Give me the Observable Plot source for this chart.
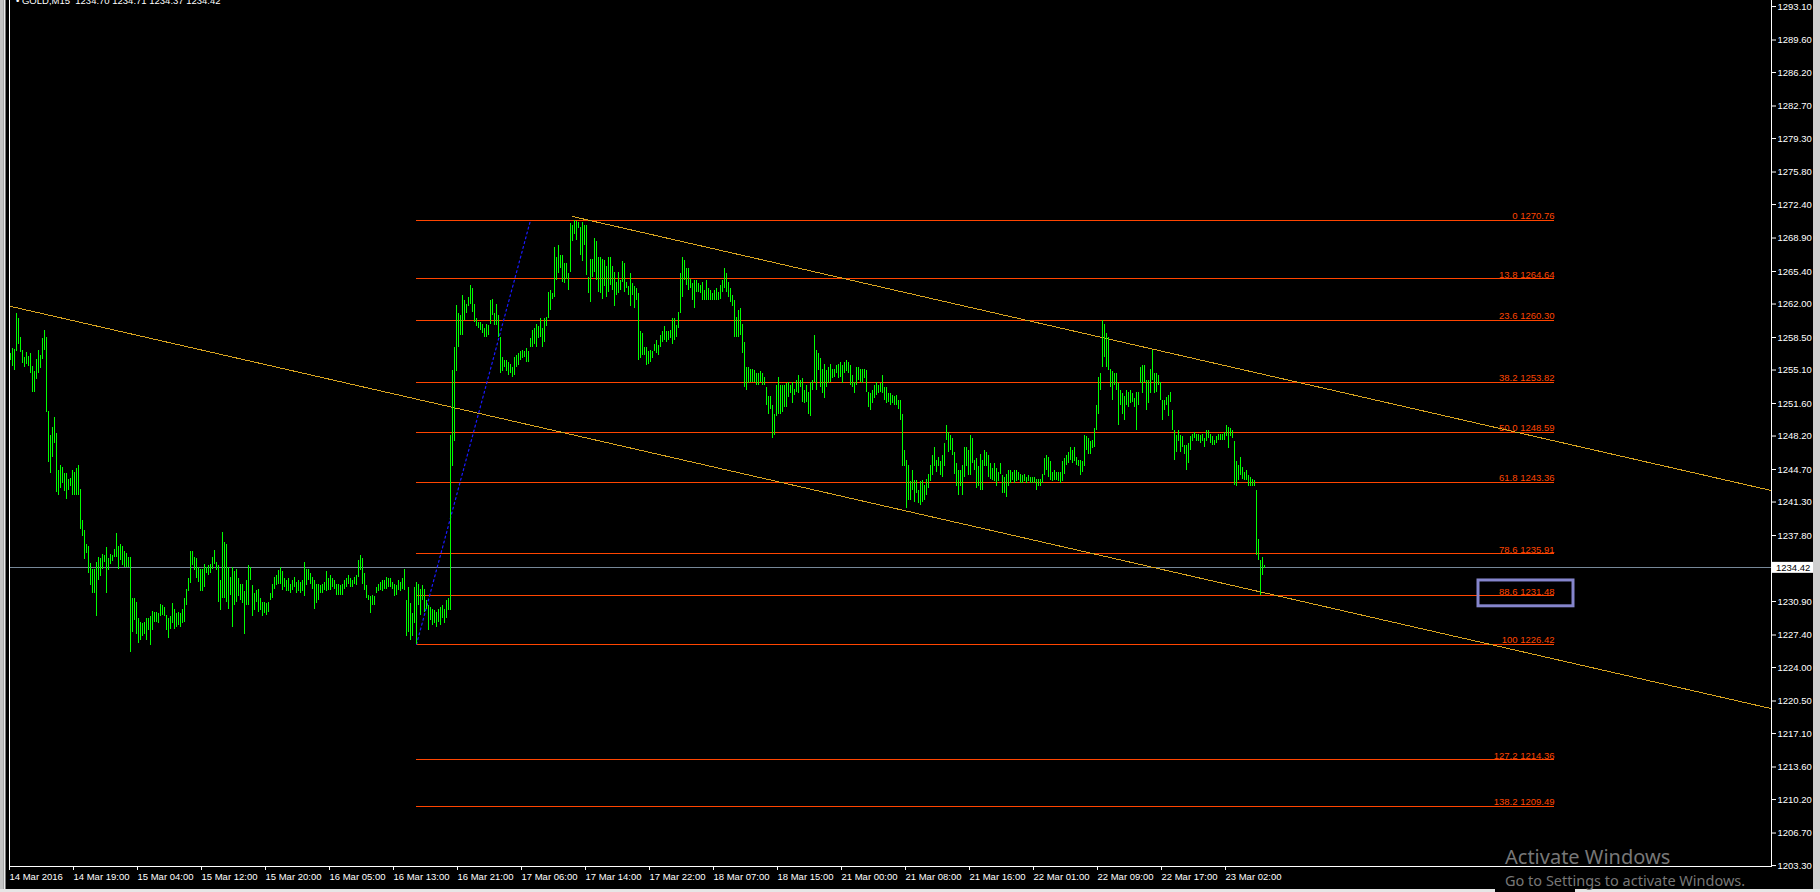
<!DOCTYPE html>
<html><head><meta charset="utf-8">
<script src="https://cdn.jsdelivr.net/npm/d3@7"></script>
<script src="https://cdn.jsdelivr.net/npm/@observablehq/plot@0.6"></script>
<style>
html,body{margin:0;padding:0;background:#000;overflow:hidden;}
#chart{width:1820px;height:892px;}
</style></head><body><div id="chart"></div>
<script>
// ---- data: GOLD M15 bars (bar index = position on the MT4 time axis) ----
const highs = [
1256.8,1257.3,1257.2,1261.0,1260.5,1258.5,1257.1,1256.4,1256.9,1256.5,
1256.8,1255.5,1254.9,1256.2,1257.1,1256.6,1258.4,1259.2,1258.5,1250.8,
1248.3,1249.1,1250.1,1248.5,1244.6,1245.1,1244.9,1244.3,1244.3,1243.7,
1243.8,1244.6,1244.4,1244.8,1245.1,1242.6,1239.4,1238.3,1236.9,1236.6,
1234.9,1234.3,1234.2,1235.0,1235.5,1235.4,1235.8,1235.7,1236.5,1235.4,
1235.8,1235.7,1236.3,1238.0,1236.6,1236.9,1236.6,1236.1,1235.9,1235.5,
1235.5,1231.2,1231.2,1230.8,1229.1,1228.7,1228.6,1228.7,1229.1,1229.1,
1229.3,1229.9,1229.8,1229.8,1229.6,1230.6,1230.5,1230.3,1229.4,1229.1,
1229.3,1230.7,1230.1,1229.6,1229.8,1229.6,1230.1,1231.2,1232.2,1233.3,
1236.1,1236.1,1235.5,1235.4,1234.5,1234.3,1234.2,1234.8,1234.5,1234.7,
1234.8,1235.5,1236.2,1235.0,1234.7,1233.1,1238.1,1237.1,1236.9,1234.5,
1233.4,1234.5,1234.0,1234.3,1233.3,1232.7,1232.7,1231.9,1233.1,1234.7,
1234.5,1232.6,1231.7,1232.1,1232.2,1231.2,1230.8,1230.8,1230.7,1230.8,
1231.7,1232.7,1233.4,1233.6,1234.1,1234.5,1234.0,1233.3,1233.1,1233.3,
1232.7,1233.1,1233.4,1232.9,1233.1,1232.9,1233.1,1235.0,1234.2,1234.3,
1233.8,1233.4,1233.1,1232.7,1232.7,1232.6,1232.7,1232.9,1234.0,1233.3,
1233.6,1233.3,1233.1,1232.7,1232.7,1232.6,1232.7,1233.1,1233.3,1233.6,
1233.3,1233.1,1233.4,1233.6,1235.2,1235.7,1235.4,1233.8,1232.6,1231.5,
1231.4,1231.5,1231.4,1232.4,1232.7,1232.9,1233.1,1233.1,1233.4,1233.3,
1233.3,1232.9,1232.7,1232.6,1233.1,1232.9,1233.3,1234.3,1231.0,1232.4,
1230.7,1229.6,1232.4,1232.9,1232.7,1232.2,1232.6,1232.2,1231.0,1230.5,
1230.3,1230.1,1230.0,1229.8,1230.1,1230.3,1230.5,1230.1,1231.0,1231.2,
1248.3,1255.1,1257.5,1261.8,1261.0,1260.8,1262.9,1262.4,1262.0,1262.7,
1263.9,1263.6,1262.0,1260.5,1260.1,1260.1,1259.9,1259.4,1259.9,1259.8,
1262.4,1262.5,1261.0,1262.0,1260.8,1258.5,1256.4,1256.1,1256.1,1255.9,
1255.7,1255.4,1256.4,1256.6,1256.8,1257.0,1257.1,1257.0,1257.3,1257.0,
1258.4,1259.2,1259.4,1259.9,1259.6,1260.5,1259.4,1260.5,1260.6,1263.2,
1263.4,1263.1,1267.9,1266.9,1268.1,1267.1,1267.1,1266.2,1266.2,1265.2,
1270.4,1270.2,1270.76,1270.6,1270.5,1270.0,1270.5,1270.2,1270.2,1264.8,
1266.7,1266.7,1268.8,1268.5,1266.9,1266.9,1266.7,1266.6,1265.9,1266.9,
1266.9,1265.9,1265.3,1264.3,1265.3,1264.5,1266.4,1266.2,1264.3,1263.8,
1265.2,1264.1,1263.8,1263.6,1263.1,1259.1,1258.9,1257.5,1257.5,1257.0,
1257.1,1257.0,1257.8,1258.2,1257.7,1258.7,1259.1,1259.6,1259.1,1259.1,
1259.2,1260.5,1260.5,1259.8,1261.1,1265.2,1266.9,1266.6,1265.7,1265.7,
1264.6,1264.1,1264.5,1264.5,1264.1,1263.9,1264.3,1263.4,1264.5,1263.6,
1263.4,1263.1,1263.4,1263.6,1263.2,1263.9,1264.5,1265.7,1265.2,1264.3,
1263.6,1262.9,1262.4,1260.6,1261.3,1261.5,1259.9,1258.0,1255.4,1255.4,
1255.2,1255.2,1255.0,1254.7,1254.7,1254.9,1254.7,1254.3,1253.3,1252.3,
1252.3,1251.4,1250.4,1253.5,1254.3,1253.5,1253.5,1253.5,1253.7,1253.8,
1253.5,1253.8,1253.1,1254.0,1254.5,1254.0,1254.2,1253.0,1253.5,1252.8,
1253.8,1254.0,1258.7,1257.1,1256.8,1256.3,1255.2,1255.7,1255.0,1255.4,
1255.7,1255.2,1255.2,1255.6,1255.7,1255.9,1255.6,1255.9,1256.1,1255.9,
1255.6,1254.5,1253.8,1255.4,1255.4,1255.2,1255.2,1255.2,1255.0,1252.8,
1252.6,1253.0,1253.5,1253.8,1253.5,1253.7,1254.5,1253.3,1253.3,1252.6,
1252.6,1252.4,1252.3,1252.4,1251.9,1251.9,1250.4,1246.7,1245.6,1245.1,
1243.4,1244.6,1243.6,1243.6,1242.5,1243.4,1243.6,1243.0,1243.7,1244.2,
1245.1,1246.2,1247.0,1245.6,1246.0,1245.5,1246.2,1247.4,1249.3,1248.6,
1248.3,1247.9,1246.5,1245.3,1244.6,1244.6,1245.1,1247.0,1247.0,1246.7,
1248.3,1247.9,1245.6,1245.8,1245.0,1246.3,1245.6,1246.7,1246.5,1246.2,
1245.3,1244.8,1245.3,1244.8,1244.4,1245.3,1244.1,1243.9,1244.2,1244.6,
1244.6,1244.4,1244.6,1244.6,1244.4,1244.2,1244.1,1244.2,1243.9,1244.1,
1243.9,1243.9,1243.9,1243.7,1243.7,1243.7,1244.2,1245.8,1246.2,1246.0,
1245.5,1244.4,1244.6,1244.4,1244.4,1244.4,1245.5,1245.8,1246.2,1246.5,
1247.0,1246.7,1247.0,1246.0,1245.6,1245.6,1245.5,1248.3,1248.1,1247.9,
1247.6,1247.7,1249.0,1251.4,1254.3,1254.7,1260.3,1259.9,1258.9,1258.5,
1255.2,1254.9,1254.7,1254.7,1253.7,1253.0,1252.6,1252.3,1253.0,1252.8,
1253.0,1252.6,1252.1,1252.8,1252.8,1255.4,1255.6,1255.6,1254.0,1254.0,
1255.2,1257.1,1254.7,1254.7,1254.5,1253.8,1251.9,1251.9,1252.2,1252.4,
1252.8,1250.9,1248.8,1248.3,1248.8,1248.3,1248.1,1247.2,1247.2,1247.4,
1248.1,1248.4,1248.6,1248.4,1248.4,1248.3,1248.4,1247.9,1248.8,1248.8,
1248.4,1248.1,1247.7,1248.1,1248.4,1248.4,1248.4,1248.6,1249.3,1249.1,
1249.0,1248.8,1247.6,1245.5,1245.1,1246.0,1244.9,1244.4,1244.6,1244.1,
1243.9,1243.7,1243.6,1242.5,1237.4,1235.2,1235.5,1234.71
];
const lows = [
1256.1,1255.5,1255.1,1257.0,1257.8,1256.9,1255.8,1255.4,1255.7,1255.5,
1254.7,1252.8,1252.8,1254.1,1254.7,1255.3,1256.2,1257.1,1250.7,1245.4,
1244.3,1246.0,1247.4,1242.3,1242.0,1242.7,1243.2,1242.4,1241.6,1242.5,
1242.9,1242.0,1242.0,1242.0,1242.0,1238.4,1237.7,1235.3,1235.9,1233.8,
1232.6,1231.7,1231.7,1229.3,1233.1,1233.5,1234.2,1235.0,1231.7,1234.1,
1234.8,1235.1,1235.5,1235.5,1234.2,1235.2,1234.7,1234.5,1234.5,1234.5,
1225.6,1227.7,1228.9,1227.5,1226.5,1226.8,1227.2,1227.5,1226.8,1227.9,
1226.3,1227.9,1228.7,1228.7,1228.6,1229.3,1229.4,1229.3,1227.9,1227.0,
1228.0,1228.6,1228.0,1228.2,1228.4,1228.2,1228.6,1228.7,1230.5,1231.9,
1232.8,1234.7,1234.1,1233.3,1232.9,1231.9,1231.9,1232.4,1233.8,1233.6,
1233.8,1234.3,1234.8,1234.1,1230.8,1230.0,1231.2,1231.2,1230.8,1230.1,
1231.5,1228.2,1230.5,1230.8,1231.4,1231.0,1230.7,1227.5,1230.5,1230.5,
1233.1,1229.3,1230.0,1230.8,1229.8,1230.0,1229.3,1229.6,1229.4,1229.8,
1231.0,1231.2,1232.2,1232.6,1232.7,1232.7,1232.1,1232.4,1231.9,1231.9,
1231.7,1232.1,1232.4,1231.7,1231.9,1231.7,1231.9,1231.4,1232.6,1233.1,
1232.7,1232.2,1230.1,1230.7,1231.0,1231.7,1231.7,1232.1,1231.9,1232.1,
1232.1,1232.4,1232.2,1231.5,1231.5,1231.5,1231.5,1232.2,1232.4,1232.7,
1232.4,1232.4,1232.7,1232.6,1233.4,1234.1,1232.7,1232.1,1231.2,1231.0,
1229.6,1230.5,1230.5,1231.7,1231.9,1232.1,1231.9,1232.2,1232.2,1232.4,
1232.4,1232.2,1231.4,1231.5,1232.1,1231.9,1232.2,1232.1,1227.2,1227.7,
1226.8,1227.2,1228.6,1226.42,1230.5,1229.4,1231.0,1229.8,1230.1,1227.9,
1228.9,1228.4,1228.6,1228.2,1228.7,1228.4,1229.1,1228.6,1229.1,1230.0,
1230.0,1245.0,1247.6,1254.9,1257.5,1258.7,1258.7,1260.3,1261.0,1261.7,
1262.0,1261.1,1260.1,1259.6,1259.4,1259.2,1258.9,1258.5,1258.5,1258.7,
1259.9,1260.8,1259.8,1259.8,1258.5,1254.7,1254.9,1255.4,1254.9,1254.5,
1254.7,1254.3,1254.5,1255.4,1255.6,1256.1,1256.3,1256.4,1255.9,1255.9,
1257.5,1257.5,1257.8,1257.5,1258.4,1258.5,1257.5,1258.0,1259.6,1260.5,
1261.3,1262.5,1262.7,1264.5,1265.2,1265.7,1264.3,1264.1,1264.6,1263.4,
1265.3,1268.5,1269.3,1268.6,1269.9,1267.1,1266.4,1268.1,1265.0,1263.1,
1262.2,1264.8,1265.3,1264.5,1263.2,1263.1,1262.5,1263.8,1262.7,1263.2,
1263.9,1263.4,1261.7,1262.9,1263.1,1263.4,1264.3,1263.2,1263.6,1262.9,
1261.7,1262.9,1261.5,1262.4,1256.1,1256.3,1256.6,1256.6,1255.6,1255.7,
1255.9,1256.3,1257.0,1256.8,1256.6,1257.5,1258.0,1258.2,1258.0,1258.2,
1258.4,1257.8,1258.2,1258.5,1259.4,1261.0,1262.7,1264.5,1263.9,1263.4,
1263.6,1262.4,1261.5,1263.2,1263.2,1263.1,1262.4,1262.4,1262.4,1262.4,
1262.4,1262.4,1262.4,1262.4,1262.4,1262.5,1263.2,1263.6,1263.2,1262.7,
1262.2,1261.7,1258.5,1258.5,1258.5,1258.7,1256.8,1253.3,1253.0,1253.7,
1253.8,1253.8,1253.8,1253.5,1253.5,1253.8,1253.5,1253.5,1251.4,1250.4,
1251.0,1247.9,1248.3,1250.2,1250.5,1250.5,1250.7,1251.2,1251.2,1252.2,
1252.6,1251.6,1252.4,1252.8,1252.6,1253.3,1251.7,1251.6,1251.7,1250.5,
1250.2,1253.0,1253.8,1253.0,1255.0,1253.3,1252.6,1252.1,1253.3,1253.7,
1253.8,1254.2,1254.3,1254.7,1254.2,1254.3,1253.7,1254.7,1254.9,1254.7,
1253.5,1253.3,1252.6,1253.5,1254.0,1253.8,1253.7,1254.2,1252.8,1251.2,
1250.9,1251.6,1252.1,1252.4,1252.6,1252.8,1252.6,1251.9,1251.6,1251.7,
1251.4,1251.6,1251.4,1251.4,1251.0,1249.8,1245.0,1245.0,1240.6,1241.5,
1241.5,1242.5,1241.3,1242.2,1241.1,1240.9,1241.3,1241.5,1242.0,1242.7,
1243.4,1244.1,1245.0,1244.4,1245.0,1244.1,1243.9,1245.0,1247.7,1246.5,
1246.7,1246.2,1244.2,1242.9,1242.0,1242.9,1242.0,1243.9,1245.0,1244.1,
1244.1,1245.3,1244.6,1242.7,1242.9,1242.5,1242.5,1245.0,1245.0,1243.9,
1243.7,1243.5,1243.4,1242.9,1243.4,1244.2,1242.2,1242.2,1241.8,1242.9,
1243.2,1243.5,1243.2,1243.4,1243.5,1243.2,1243.2,1243.4,1243.2,1243.4,
1243.2,1243.2,1243.2,1242.5,1242.9,1242.9,1243.2,1244.1,1244.6,1243.9,
1243.5,1243.4,1243.5,1243.5,1243.4,1243.2,1243.4,1244.2,1245.1,1245.3,
1245.6,1245.3,1245.5,1245.1,1245.0,1244.1,1244.4,1245.0,1246.7,1246.3,
1246.3,1246.9,1247.0,1248.8,1250.5,1253.0,1255.4,1256.4,1255.4,1255.0,
1253.3,1251.9,1253.5,1253.0,1249.3,1251.4,1250.5,1249.8,1251.4,1251.2,
1251.6,1251.7,1251.2,1248.8,1251.4,1253.7,1252.6,1253.8,1250.9,1251.6,
1252.6,1254.0,1252.6,1252.8,1253.5,1251.9,1249.8,1250.9,1251.4,1250.2,
1251.7,1248.8,1245.6,1246.5,1247.6,1246.5,1247.0,1246.3,1244.6,1245.3,
1246.7,1247.6,1247.9,1247.6,1247.6,1247.4,1247.6,1247.0,1247.6,1247.9,
1247.4,1247.2,1247.2,1247.4,1247.7,1247.7,1247.7,1247.7,1248.1,1246.9,
1248.1,1247.9,1243.0,1242.9,1243.6,1244.1,1243.7,1243.5,1243.5,1242.9,
1242.9,1242.9,1242.9,1235.7,1235.2,1231.48,1233.6,1234.37
];
const titleText = "GOLD,M15  1234.70 1234.71 1234.37 1234.42";
const currentPrice = 1234.42;

// time axis (bar index of each label)
const xTickBars = [0,32,64,96,128,160,192,224,256,288,320,352,384,416,448,480,512,544,576,608];
const xTickLabels = ["14 Mar 2016","14 Mar 19:00","15 Mar 04:00","15 Mar 12:00","15 Mar 20:00",
  "16 Mar 05:00","16 Mar 13:00","16 Mar 21:00","17 Mar 06:00","17 Mar 14:00","17 Mar 22:00",
  "18 Mar 07:00","18 Mar 15:00","21 Mar 00:00","21 Mar 08:00","21 Mar 16:00","22 Mar 01:00",
  "22 Mar 09:00","22 Mar 17:00","23 Mar 02:00"];
const yTicks = [1293.10,1289.60,1286.20,1282.70,1279.30,1275.80,1272.40,1268.90,1265.40,1262.00,
  1258.50,1255.10,1251.60,1248.20,1244.70,1241.30,1237.80,1230.90,1227.40,1224.00,1220.50,
  1217.10,1213.60,1210.20,1206.70,1203.30];

// Fibonacci retracement
const fibLevels = ["0","13.8","23.6","38.2","50.0","61.8","78.6","88.6","100","127.2","138.2"];
const fibPrices = [1270.76,1264.64,1260.30,1253.82,1248.59,1243.36,1235.91,1231.48,1226.42,1214.36,1209.49];
const fibBars = [203, 772];      // start / end bar of level lines
const fibSwing = [[203,1226.42],[260,1270.76]]; // dotted swing line

// channel trendlines
const upperChannel = [[281,1271.15],[880.5,1242.5]];
const lowerChannel = [[-0.5,1261.78],[880.5,1219.7]];

// highlight box around 88.6 level label
const highlightBox = [{x1:734, x2:781.5, y1:1230.4, y2:1233.1}];

const bars = highs.map((h, i) => ({i, high: h, low: lows[i]}));

const plot = Plot.plot({
  width: 1820, height: 892,
  marginLeft: 9, marginRight: 49, marginTop: 0, marginBottom: 26,
  style: {background: "#000", color: "#fff", fontFamily: "'Liberation Sans', Arial, sans-serif", fontSize: "9.5px"},
  x: {domain: [-0.5, 880.5], axis: null},
  y: {domain: [1203.2, 1293.73], axis: null},
  marks: [
    Plot.ruleY([currentPrice], {stroke: "#778899", shapeRendering: "crispEdges"}),
    Plot.ruleY(fibPrices, {y: d => d, x1: () => fibBars[0], x2: () => fibBars[1], stroke: "#ff4500", shapeRendering: "crispEdges"}),
    Plot.text(fibPrices, {x: () => fibBars[1], y: d => d, text: (d, i) => fibLevels[i] + " " + d.toFixed(2),
      textAnchor: "end", lineAnchor: "bottom", dy: -1, fill: "#ff4500", fontSize: 9.5}),
    Plot.line(lowerChannel, {x: d => d[0], y: d => d[1], stroke: "#daa520", strokeWidth: 1, shapeRendering: "crispEdges"}),
    Plot.line(upperChannel, {x: d => d[0], y: d => d[1], stroke: "#daa520", strokeWidth: 1, shapeRendering: "crispEdges"}),
    Plot.line(fibSwing, {x: d => d[0], y: d => d[1], stroke: "#1a1aff", strokeDasharray: "2,3", strokeWidth: 1.2}),
    Plot.ruleX(bars, {x: "i", y1: "low", y2: "high", stroke: "#00ff00", strokeWidth: 1, shapeRendering: "crispEdges"}),
    Plot.rect(highlightBox, {x1: "x1", x2: "x2", y1: "y1", y2: "y2", fill: "none", stroke: "#8585cc", strokeWidth: 3}),
    Plot.axisY(yTicks, {anchor: "right", tickSize: 4, tickPadding: 2, tickFormat: d => d.toFixed(2), stroke: "#fff", fill: "#fff"}),
    Plot.axisX(xTickBars, {anchor: "bottom", tickSize: 4, tickPadding: 3, textAnchor: "start", dx: -1,
      tickFormat: d => xTickLabels[xTickBars.indexOf(d)], stroke: "#fff", fill: "#fff"}),
    Plot.frame({anchor: "left", stroke: "#fff"}),
    Plot.frame({anchor: "right", stroke: "#fff"}),
    Plot.frame({anchor: "bottom", stroke: "#fff"})
  ]
});
document.getElementById("chart").appendChild(plot);

// decorations drawn from the library's scales
const svg = d3.select(plot);
const xs = plot.scale("x"), ys = plot.scale("y");
const xR = xs.range[1];
const yC = ys.apply(currentPrice);
const lab = svg.append("g").attr("text-anchor", "start");
lab.append("rect").attr("x", xR + 1).attr("y", yC - 5.5).attr("width", 41).attr("height", 11).attr("fill", "#fff");
lab.append("text").attr("x", xR + 5).attr("y", yC).attr("dy", "0.35em").attr("fill", "#000")
  .attr("font-size", "9.5px").attr("font-family", "'Liberation Sans', Arial, sans-serif").text(currentPrice.toFixed(2));

// window chrome: left/right strips, title, watermark
const chrome = svg.append("g").attr("text-anchor", "start");
chrome.append("rect").attr("x", 0).attr("y", 0).attr("width", 3.5).attr("height", 892).attr("fill", "#c4c4c4");
chrome.append("rect").attr("x", 3.5).attr("y", 0).attr("width", 2).attr("height", 892).attr("fill", "#eeeeee");
chrome.append("rect").attr("x", 1813).attr("y", 0).attr("width", 7).attr("height", 892).attr("fill", "#cfcfcf");
chrome.append("rect").attr("x", 0).attr("y", 889).attr("width", 1495).attr("height", 3).attr("fill", "#e6e6e6");
chrome.append("rect").attr("x", 1575).attr("y", 889).attr("width", 245).attr("height", 3).attr("fill", "#e6e6e6");
chrome.append("text").attr("x", 16).attr("y", 4).attr("fill", "#fff").attr("font-size", "9.5px")
  .attr("font-family", "'Liberation Sans', Arial, sans-serif").text("\u2022 " + titleText);
chrome.append("text").attr("x", 1505).attr("y", 864).attr("fill", "#777").attr("font-size", "20px")
  .attr("font-family", "'Noto Sans', 'Open Sans', sans-serif").text("Activate Windows");
chrome.append("text").attr("x", 1505).attr("y", 886).attr("fill", "#777").attr("font-size", "14.5px")
  .attr("font-family", "'Noto Sans', 'Open Sans', sans-serif").text("Go to Settings to activate Windows.");
</script>
</body></html>
